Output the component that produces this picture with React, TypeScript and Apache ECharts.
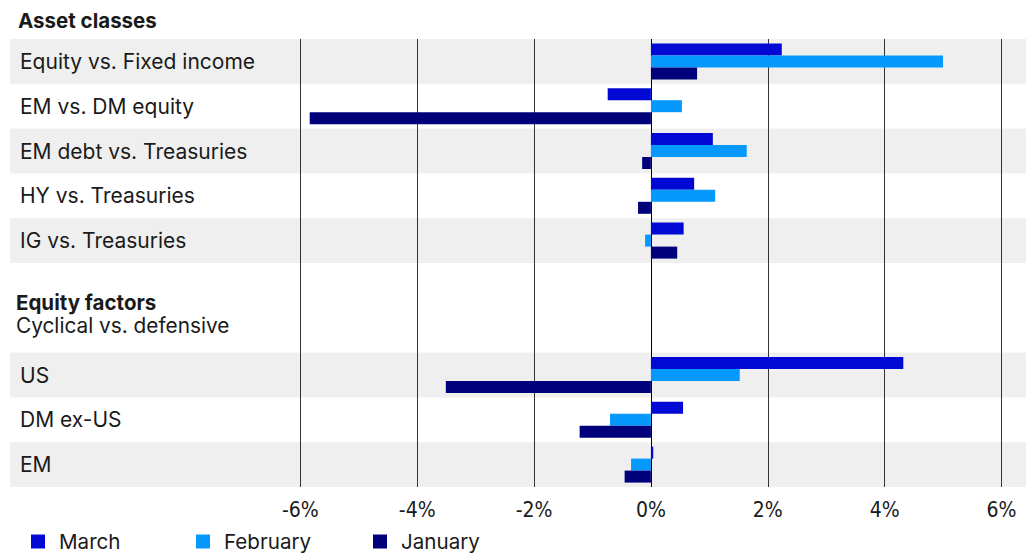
import React, { useEffect, useRef } from "react";
import * as echarts from "echarts";

const categories = [
  "Equity vs. Fixed income",
  "EM vs. DM equity",
  "EM debt vs. Treasuries",
  "HY vs. Treasuries",
  "IG vs. Treasuries",
  " ",
  "  ",
  "US",
  "DM ex-US",
  "EM",
];
const shadedRows = [0, 2, 4, 7, 9];
const march = [2.24, -0.74, 1.06, 0.74, 0.56, "-", "-", 4.32, 0.55, 0.04];
const february = [5.0, 0.53, 1.64, 1.1, -0.1, "-", "-", 1.52, -0.7, -0.34];
const january = [0.79, -5.84, -0.15, -0.22, 0.45, "-", "-", -3.51, -1.22, -0.45];
const tickValues = [-6, -4, -2, 0, 2, 4, 6];
const seriesNames = ["March", "February", "January"];
const colors = ["#0309D4", "#0699FD", "#00007A"];

const FONT = "Inter, Roboto, 'Noto Sans', sans-serif";
const NARROW = "'Liberation Sans Narrow', 'DejaVu Sans Condensed', Arial, sans-serif";
const TEXT = "#1a1a1a";

export default function App() {
  const ref = useRef<HTMLDivElement>(null);
  useEffect(() => {
    document.body.style.margin = "0";
    const chart = echarts.init(ref.current!, null, { renderer: "svg" });
    const barSeries = [march, february, january].map((d, i) => ({
      name: seriesNames[i],
      type: "bar",
      data: d,
      barWidth: 12,
      barGap: "0%",
      itemStyle: { color: colors[i] },
      z: 3,
    }));
    const legendLefts = [31, 196, 373];
    chart.setOption({
      animation: false,
      grid: { left: 10, right: 10, top: 39, bottom: 67, containLabel: false },
      xAxis: {
        type: "value",
        min: -10.97,
        max: 6.42,
        splitLine: { show: false },
        axisLine: { show: false },
        axisTick: { show: false },
        axisLabel: {
          customValues: tickValues,
          formatter: (v: number) => `${v}%`,
          fontFamily: NARROW,
          fontSize: 21,
          color: TEXT,
          margin: 12,
        },
      },
      yAxis: {
        type: "category",
        inverse: true,
        data: categories,
        axisLine: { show: false },
        axisTick: { show: false },
        splitLine: { show: false },
        axisLabel: {
          inside: true,
          margin: 10,
          fontFamily: FONT,
          fontSize: 21,
          color: TEXT,
        },
        z: 5,
      },
      legend: seriesNames.map((n, i) => ({
        data: [{ name: n }],
        left: legendLefts[i],
        top: 531,
        padding: 0,
        icon: "rect",
        itemWidth: 14,
        itemHeight: 14,
        textStyle: {
          fontFamily: FONT,
          fontSize: 20.6,
          color: TEXT,
          padding: [0, 0, 0, 9],
        },
        selectedMode: false,
      })),
      graphic: [
        {
          type: "text",
          left: 18,
          top: 10,
          style: { text: "Asset classes", fontFamily: FONT, fontSize: 20.5, fontWeight: "bold", fill: TEXT },
        },
        {
          type: "text",
          left: 16,
          top: 292,
          style: { text: "Equity factors", fontFamily: FONT, fontSize: 20.5, fontWeight: "bold", fill: TEXT },
        },
        {
          type: "text",
          left: 16,
          top: 315,
          style: { text: "Cyclical vs. defensive", fontFamily: FONT, fontSize: 20.8, fill: TEXT },
        },
      ],
      series: [
        {
          type: "custom",
          silent: true,
          z: 1,
          data: shadedRows.map((r) => [0, r]),
          encode: { x: 0, y: 1 },
          renderItem: (params: any, api: any) => {
            const y = api.coord([0, api.value(1)])[1];
            const h = api.size([0, 1])[1];
            const cs = params.coordSys;
            return {
              type: "rect",
              shape: { x: cs.x, y: y - h / 2, width: cs.width, height: h },
              style: { fill: "#efefef" },
            };
          },
          markLine: {
            silent: true,
            symbol: "none",
            label: { show: false },
            z: 2,
            data: tickValues.map((v) => ({
              xAxis: v,
              lineStyle: { color: v === 0 ? "#000" : "#333", width: 1, type: "solid" },
            })),
          },
        },
        ...barSeries,
      ],
    });
    return () => chart.dispose();
  }, []);
  return <div ref={ref} style={{ width: 1036, height: 554 }} />;
}
